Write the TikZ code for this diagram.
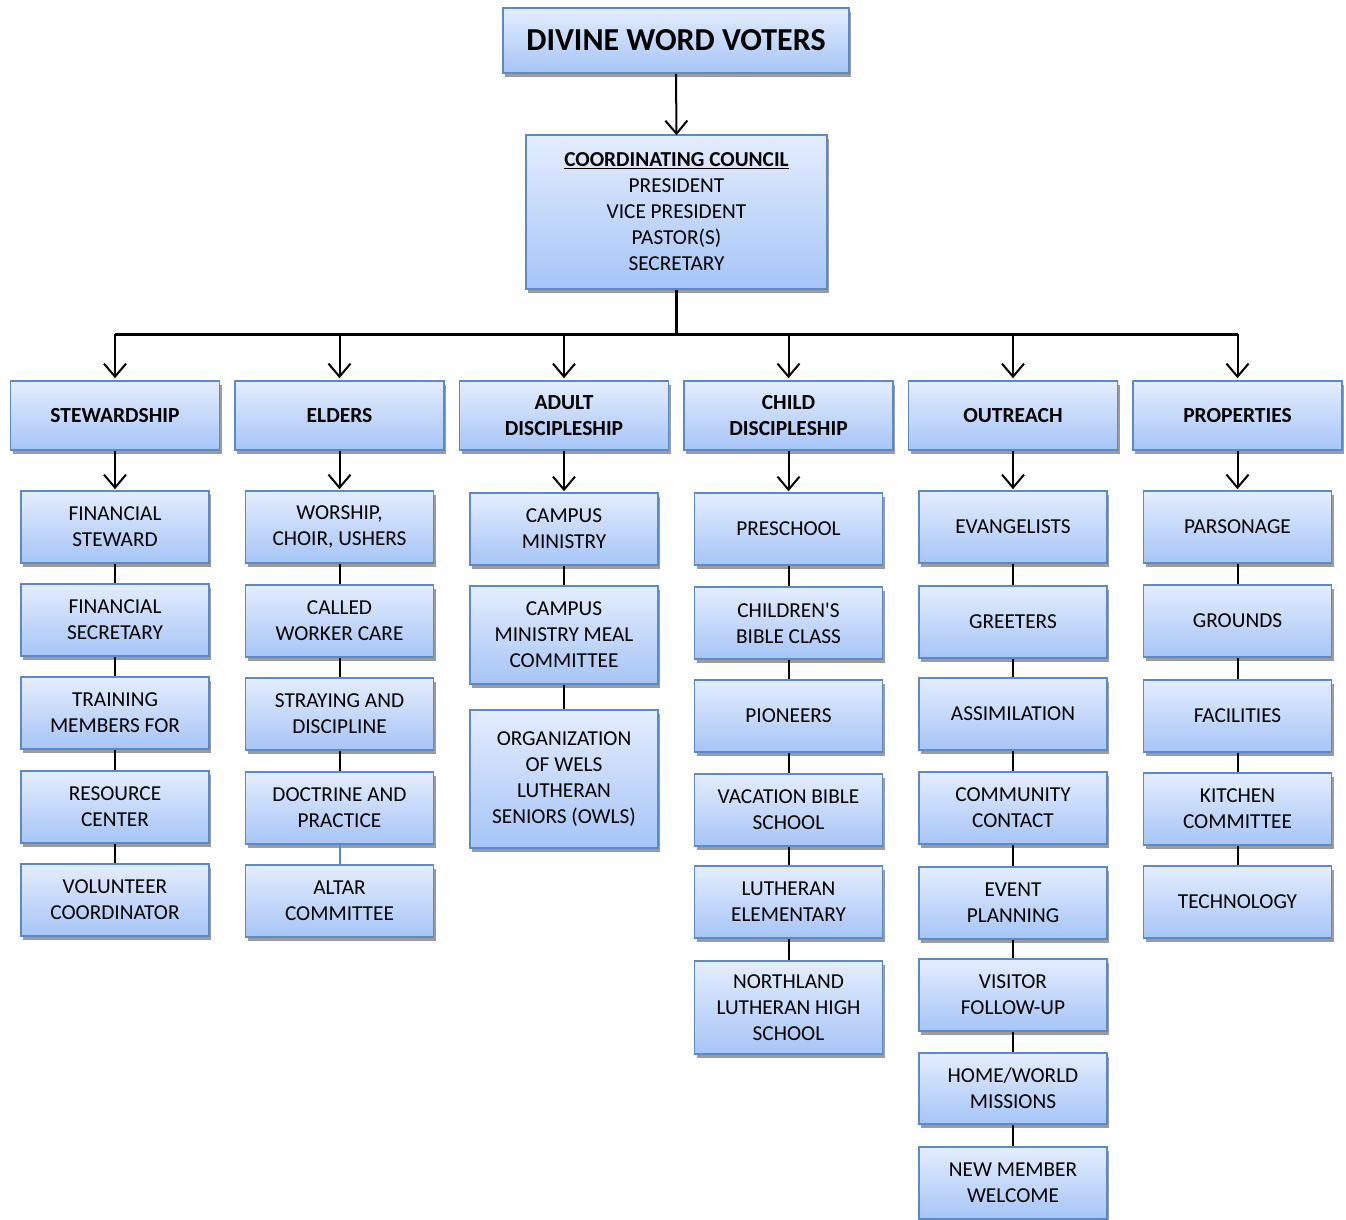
\documentclass[tikz,border=0pt]{standalone}
\usepackage{fontspec}
\setmainfont{Carlito}
\usetikzlibrary{arrows.meta,shadows}
\definecolor{boxtop}{HTML}{E4EDFD}
\definecolor{boxbot}{HTML}{A6C5F7}
\definecolor{boxline}{HTML}{5B8AC6}
\definecolor{shad}{HTML}{9C9C9C}
\tikzset{
  basebox/.style={rectangle, draw=boxline, line width=1.6pt, top color=boxtop, bottom color=boxbot,
    drop shadow={shadow xshift=2pt, shadow yshift=-4pt, fill=shad, opacity=1},
    align=center, inner sep=0pt, font=\fontsize{21.3}{26}\selectfont},
  subbox/.style={basebox, minimum width=188pt},
  headbox/.style={basebox, minimum width=209pt, minimum height=69pt, font=\fontsize{21.5}{26}\selectfont\bfseries},
  arr/.style={draw=black, line width=2pt, -{Straight Barb[length=13pt,width=22pt,line width=2pt]}},
  link/.style={draw=black, line width=2pt},
  bluelink/.style={draw=boxline, line width=2pt},
  bus/.style={draw=black, line width=3pt}
}
\newcommand\subbox[5]{\node[subbox, minimum height=#4pt] (#1) at (#2,#3) {#5};}
\begin{document}
\begin{tikzpicture}[x=1pt,y=-1pt]
\useasboundingbox (0,0) rectangle (1346,1220);
% top
\node[basebox, minimum width=346pt, minimum height=65pt, font=\fontsize{32}{36}\selectfont\bfseries] (title) at (676,40.5) {DIVINE WORD VOTERS};
\node[basebox, minimum width=301pt, minimum height=154pt] (council) at (676.5,212)
  {\underline{\textbf{COORDINATING COUNCIL}}\\PRESIDENT\\VICE PRESIDENT\\PASTOR(S)\\SECRETARY};
% headers
\node[headbox] (h1) at (115,415.5) {STEWARDSHIP};
\node[headbox] (h2) at (339.5,415.5) {ELDERS};
\node[headbox] (h3) at (564,415.5) {ADULT\\DISCIPLESHIP};
\node[headbox] (h4) at (788.5,415.5) {CHILD\\DISCIPLESHIP};
\node[headbox] (h5) at (1013,415.5) {OUTREACH};
\node[headbox] (h6) at (1237.5,415.5) {PROPERTIES};
% column 1
\subbox{a1}{115}{527}{72}{FINANCIAL\\STEWARD}
\subbox{a2}{115}{620}{72}{FINANCIAL\\SECRETARY}
\subbox{a3}{115}{713}{72}{TRAINING\\MEMBERS FOR}
\subbox{a4}{115}{807}{72}{RESOURCE\\CENTER}
\subbox{a5}{115}{900}{72}{VOLUNTEER\\COORDINATOR}
% column 2
\subbox{b1}{339.5}{527}{72}{WORSHIP,\\CHOIR, USHERS}
\subbox{b2}{339.5}{621}{72}{CALLED\\WORKER CARE}
\subbox{b3}{339.5}{714}{72}{STRAYING AND\\DISCIPLINE}
\subbox{b4}{339.5}{808}{72}{DOCTRINE AND\\PRACTICE}
\subbox{b5}{339.5}{901}{72}{ALTAR\\COMMITTEE}
% column 3
\subbox{c1}{564}{529}{72}{CAMPUS\\MINISTRY}
\subbox{c2}{564}{635}{98}{CAMPUS\\MINISTRY MEAL\\COMMITTEE}
\subbox{c3}{564}{779}{138}{ORGANIZATION\\OF WELS\\LUTHERAN\\SENIORS (OWLS)}
% column 4
\subbox{d1}{788.5}{529}{72}{PRESCHOOL}
\subbox{d2}{788.5}{623}{72}{CHILDREN\textquotesingle S\\BIBLE CLASS}
\subbox{d3}{788.5}{716}{72}{PIONEERS}
\subbox{d4}{788.5}{810}{72}{VACATION BIBLE\\SCHOOL}
\subbox{d5}{788.5}{902}{72}{LUTHERAN\\ELEMENTARY}
\subbox{d6}{788.5}{1007.5}{93}{NORTHLAND\\LUTHERAN HIGH\\SCHOOL}
% column 5
\subbox{e1}{1013}{527}{72}{EVANGELISTS}
\subbox{e2}{1013}{622}{72}{GREETERS}
\subbox{e3}{1013}{714}{72}{ASSIMILATION}
\subbox{e4}{1013}{808}{72}{COMMUNITY\\CONTACT}
\subbox{e5}{1013}{903}{72}{EVENT\\PLANNING}
\subbox{e6}{1013}{995}{72}{VISITOR\\FOLLOW-UP}
\subbox{e7}{1013}{1088.5}{71}{HOME/WORLD\\MISSIONS}
\subbox{e8}{1013}{1183}{72}{NEW MEMBER\\WELCOME}
% column 6
\subbox{f1}{1237.5}{527}{72}{PARSONAGE}
\subbox{f2}{1237.5}{621}{72}{GROUNDS}
\subbox{f3}{1237.5}{716}{72}{FACILITIES}
\subbox{f4}{1237.5}{809}{72}{KITCHEN\\COMMITTEE}
\subbox{f5}{1237.5}{902}{72}{TECHNOLOGY}
% connectors
\draw[arr] (title.south) -- ([yshift=-1pt]council.north);
\coordinate (bus) at (676.5,334);
\draw[bus] (council.south) -- (bus);
\draw[bus] (h1.north |- bus) -- (h6.north |- bus);
\foreach \h in {h1,h2,h3,h4,h5,h6} \draw[arr] (\h.north |- bus) -- ([yshift=2pt]\h.north);
\draw[arr] (h1.south) -- ([yshift=1pt]a1.north);
\draw[arr] (h2.south) -- ([yshift=1pt]b1.north);
\draw[arr] (h3.south) -- ([yshift=1pt]c1.north);
\draw[arr] (h4.south) -- ([yshift=1pt]d1.north);
\draw[arr] (h5.south) -- ([yshift=1pt]e1.north);
\draw[arr] (h6.south) -- ([yshift=1pt]f1.north);
\draw[link] (a1) -- (a2) (a2) -- (a3) (a3) -- (a4) (a4) -- (a5);
\draw[link] (b1) -- (b2) (b2) -- (b3) (b3) -- (b4);
\draw[bluelink] (b4) -- (b5);
\draw[link] (c1) -- (c2) (c2) -- (c3);
\draw[link] (d1) -- (d2) (d2) -- (d3) (d3) -- (d4) (d4) -- (d5) (d5) -- (d6);
\draw[link] (e1) -- (e2) (e2) -- (e3) (e3) -- (e4) (e4) -- (e5) (e5) -- (e6) (e6) -- (e7) (e7) -- (e8);
\draw[link] (f1) -- (f2) (f2) -- (f3) (f3) -- (f4) (f4) -- (f5);
\end{tikzpicture}
\end{document}
